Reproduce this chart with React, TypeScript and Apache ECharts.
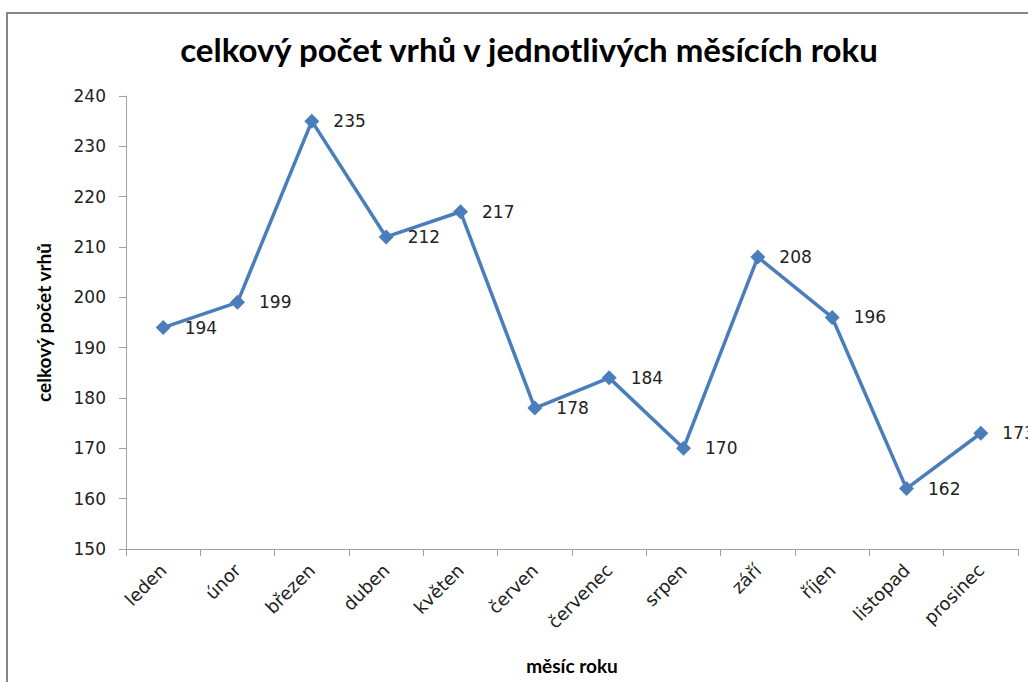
import React, { useEffect, useRef } from "react";
import * as echarts from "echarts";

const months = ["leden", "únor", "březen", "duben", "květen", "červen", "červenec", "srpen", "září", "říjen", "listopad", "prosinec"];
const litters = [194, 199, 235, 212, 217, 178, 184, 170, 208, 196, 162, 173];
const yMin = 150;
const yMax = 240;
const yStep = 10;

const FONT = "Lato, 'Open Sans', sans-serif";
const NUMFONT = "'DejaVu Sans', Verdana, sans-serif";

export default function App() {
  const ref = useRef<HTMLDivElement>(null);
  useEffect(() => {
    if (!ref.current) return;
    const chart = echarts.init(ref.current, undefined, { renderer: "svg" });
    chart.setOption({
      animation: false,
      backgroundColor: "#ffffff",
      textStyle: { fontFamily: FONT },
      graphic: [
        {
          type: "rect",
          shape: { x: 7, y: 13, width: 1200, height: 900 },
          style: { fill: "none", stroke: "#868686", lineWidth: 2 },
          z: -1,
        },
      ],
      title: {
        text: "celkový počet vrhů v jednotlivých měsících roku",
        left: 524,
        textAlign: "center",
        top: 27,
        textStyle: { fontFamily: FONT, fontSize: 33, fontWeight: "bold", color: "#000" },
      },
      grid: { left: 126, right: 10, top: 96, bottom: 133 },
      xAxis: {
        type: "category",
        data: months,
        boundaryGap: true,
        name: "měsíc roku",
        nameLocation: "middle",
        nameGap: 107,
        nameTextStyle: { fontFamily: FONT, fontSize: 19, fontWeight: "bold", color: "#000" },
        axisLine: { lineStyle: { color: "#a0a0a0", width: 1 } },
        axisTick: { show: true, length: 7, alignWithLabel: false, lineStyle: { color: "#a0a0a0" } },
        axisLabel: { rotate: 45, margin: 18, fontSize: 18, color: "#222", fontFamily: NUMFONT, interval: 0 },
        splitLine: { show: false },
      },
      yAxis: {
        type: "value",
        min: yMin,
        max: yMax,
        interval: yStep,
        name: "celkový počet vrhů",
        nameLocation: "middle",
        nameRotate: 90,
        nameGap: 73,
        nameTextStyle: { fontFamily: FONT, fontSize: 19, fontWeight: "bold", color: "#000" },
        axisLine: { show: true, lineStyle: { color: "#a0a0a0", width: 1 } },
        axisTick: { show: true, length: 7, lineStyle: { color: "#a0a0a0" } },
        axisLabel: { margin: 20, fontSize: 17, color: "#222", fontFamily: NUMFONT },
        splitLine: { show: false },
      },
      series: [
        {
          type: "line",
          data: litters,
          symbol: "diamond",
          symbolSize: 15,
          itemStyle: { color: "#4a7ebb" },
          lineStyle: { color: "#4a7ebb", width: 3.5 },
          label: {
            show: true,
            position: "right",
            distance: 14,
            fontSize: 17,
            color: "#222",
            fontFamily: NUMFONT,
          },
        },
      ],
    });
    return () => chart.dispose();
  }, []);
  return (
    <div
      ref={ref}
      style={{ position: "fixed", left: 0, top: 0, width: 1028, height: 682 }}
    />
  );
}
